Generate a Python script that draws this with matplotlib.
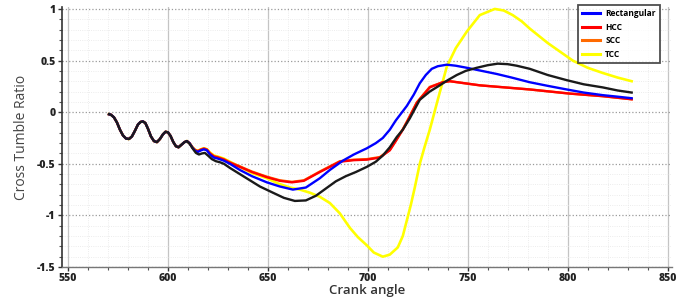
import matplotlib
matplotlib.use("Agg")
import matplotlib.pyplot as plt
from matplotlib.ticker import MultipleLocator

plt.rcParams['font.family'] = ['Open Sans', 'DejaVu Sans']

# shared start of all curves (oscillating part)
x_start = [570.5, 571.5, 573, 574.5, 576, 577.5, 579, 580.5, 582, 583.5, 585, 586.3,
           587.5, 588.7, 590, 591.5, 593, 594.5, 596, 597.5, 598.8, 600, 601.3, 602.7,
           604, 605.3, 606.8, 608.3, 609.5]
y_start = [-0.02, -0.025, -0.05, -0.10, -0.17, -0.225, -0.255, -0.26, -0.235, -0.18,
           -0.12, -0.095, -0.09, -0.105, -0.16, -0.235, -0.28, -0.29, -0.26, -0.215,
           -0.19, -0.195, -0.23, -0.29, -0.33, -0.34, -0.315, -0.29, -0.28]

rect_x = [610.8, 612.3, 613.6, 615, 616.5, 618, 619.5, 621, 623, 625, 628, 631, 636, 642,
          649.5, 656, 662.5, 669, 676, 681, 687.5, 693, 699.5, 704, 707.5, 711, 714,
          719.5, 723, 726, 729, 732, 735, 739.5, 744, 749.5, 757, 764.5, 772, 781, 790,
          799.5, 808, 817.5, 825, 832]
rect_y = [-0.30, -0.345, -0.375, -0.385, -0.37, -0.36, -0.37, -0.41, -0.44, -0.45,
          -0.47, -0.50, -0.56, -0.62, -0.68, -0.72, -0.75, -0.73, -0.64, -0.56, -0.47,
          -0.41, -0.35, -0.30, -0.25, -0.17, -0.08, 0.06, 0.17, 0.28, 0.36, 0.42, 0.445,
          0.46, 0.45, 0.43, 0.40, 0.37, 0.335, 0.29, 0.255, 0.22, 0.19, 0.165, 0.15, 0.135]

hcc_x = [610.8, 612.3, 613.6, 615, 616.5, 618, 619.5, 621, 623, 625, 628, 631, 636, 642,
         649.5, 656, 662, 668, 676, 681, 686, 693, 699.5, 706, 711, 714, 717.5, 720,
         724.5, 731, 737.5, 741, 756, 781, 801, 817.5, 832]
hcc_y = [-0.30, -0.345, -0.37, -0.38, -0.365, -0.355, -0.365, -0.40, -0.43, -0.44,
         -0.46, -0.49, -0.53, -0.58, -0.63, -0.665, -0.68, -0.665, -0.58, -0.53, -0.48,
         -0.465, -0.46, -0.44, -0.37, -0.28, -0.17, -0.08, 0.09, 0.24, 0.29, 0.30, 0.26,
         0.22, 0.18, 0.155, 0.125]

scc_x = [610.8, 612.3, 613.6, 615, 616.5, 618, 619.5, 621, 623, 625, 628, 631, 636, 642,
         649.5, 656, 662, 668, 676, 681, 686, 693, 699.5, 706, 711, 714, 717.5, 720,
         724.5, 731, 737.5, 741, 756, 781, 801, 817.5, 832]
scc_y = [-0.30, -0.34, -0.365, -0.375, -0.36, -0.35, -0.36, -0.395, -0.425, -0.435,
         -0.455, -0.485, -0.525, -0.575, -0.625, -0.66, -0.675, -0.66, -0.575, -0.525,
         -0.475, -0.46, -0.455, -0.435, -0.365, -0.275, -0.165, -0.075, 0.095, 0.245,
         0.29, 0.30, 0.26, 0.22, 0.18, 0.155, 0.125]

tcc_x = [610.8, 612.3, 613.6, 615, 616.5, 618, 619.5, 621, 623, 625, 628, 631, 636, 642,
         649.5, 655, 661, 666, 671, 676, 681, 686, 691, 695, 699.5, 703, 707.5, 711, 715,
         717.5, 719.5, 721.5, 723.5, 726, 728.5, 731, 735, 739.5, 744, 749.5, 756, 763.5,
         768, 772.5, 777, 781, 790, 802.5, 810, 817.5, 825, 832]
tcc_y = [-0.30, -0.34, -0.365, -0.375, -0.36, -0.35, -0.36, -0.39, -0.42, -0.43, -0.45,
         -0.48, -0.53, -0.59, -0.64, -0.69, -0.73, -0.75, -0.78, -0.82, -0.88, -0.98,
         -1.12, -1.21, -1.29, -1.36, -1.40, -1.38, -1.31, -1.20, -1.05, -0.90, -0.73,
         -0.50, -0.33, -0.17, 0.12, 0.44, 0.62, 0.78, 0.94, 1.0, 0.985, 0.94, 0.88, 0.81,
         0.67, 0.50, 0.43, 0.38, 0.335, 0.30]

base_x = [611, 612.5, 614, 615.5, 617, 618.5, 620, 622, 624, 626, 628, 631, 636, 641, 646,
          652.5, 658, 663.5, 669, 674, 679, 684, 689, 694, 699.5, 704, 707.5, 711, 714.5,
          717.5, 721, 726, 731, 736, 740, 744.5, 749, 754.5, 760, 765, 770, 774.5, 781,
          790, 799.5, 808, 817.5, 825, 832]
base_y = [-0.31, -0.355, -0.395, -0.41, -0.40, -0.395, -0.42, -0.455, -0.475, -0.485,
          -0.50, -0.54, -0.60, -0.66, -0.72, -0.78, -0.83, -0.86, -0.855, -0.81, -0.74,
          -0.67, -0.62, -0.58, -0.53, -0.48, -0.42, -0.34, -0.24, -0.17, -0.06, 0.12,
          0.20, 0.26, 0.31, 0.36, 0.40, 0.43, 0.455, 0.47, 0.465, 0.45, 0.42, 0.36, 0.31,
          0.27, 0.24, 0.21, 0.19]

fig = plt.figure(figsize=(6.85, 2.99), dpi=100)
ax = fig.add_axes([0.0905, 0.107, 0.89, 0.87])

lw = 1.7
ax.plot(x_start + tcc_x, y_start + tcc_y, color='#ffff00', lw=lw + 0.2, label='TCC', zorder=3)
ax.plot(x_start + scc_x, y_start + scc_y, color='#ff6a00', lw=lw, label='SCC', zorder=4)
ax.plot(x_start + hcc_x, y_start + hcc_y, color='#ff0000', lw=lw, label='HCC', zorder=5)
ax.plot(x_start + rect_x, y_start + rect_y, color='#0000ff', lw=lw, label='Rectangular', zorder=6)
ax.plot(x_start + base_x, y_start + base_y, color='#1a1a1a', lw=lw, zorder=7)

ax.set_xlim(547, 852)
ax.set_ylim(-1.5, 1.02)
ax.xaxis.set_major_locator(MultipleLocator(50))
ax.xaxis.set_minor_locator(MultipleLocator(10))
ax.yaxis.set_major_locator(MultipleLocator(0.5))
ax.yaxis.set_minor_locator(MultipleLocator(0.1))
ax.set_yticks([-1.5, -1, -0.5, 0, 0.5, 1])
ax.set_yticklabels(['-1.5', '-1', '-0.5', '0', '0.5', '1'])

ax.grid(axis='x', which='major', ls='-', color='#c4c4c4', lw=0.9)
ax.grid(axis='y', which='major', ls=':', color='#9a9a9a', lw=0.9)
ax.grid(which='minor', ls=':', color='#e6e6e6', lw=0.6)
ax.set_axisbelow(True)

for s in ['top', 'right']:
    ax.spines[s].set_visible(False)
ax.spines['left'].set_color('#333333')
ax.spines['bottom'].set_color('#777777')
ax.spines['left'].set_linewidth(1.2)
ax.spines['bottom'].set_linewidth(1.0)

ax.tick_params(which='major', length=3, width=1, colors='#333333', labelsize=7.5, pad=1.5)
ax.tick_params(which='minor', length=2, width=0.8, colors='#555555')
for t in ax.get_xticklabels() + ax.get_yticklabels():
    t.set_fontweight('heavy')
    t.set_color('#222222')

ax.set_xlabel('Crank angle', fontsize=9.5, fontweight='semibold', color='#333333', labelpad=0)
ax.set_ylabel('Cross Tumble Ratio', fontsize=10, color='#444444', labelpad=6)

handles, labels = ax.get_legend_handles_labels()
order = [3, 2, 1, 0]
leg = ax.legend([handles[i] for i in order], [labels[i] for i in order],
                loc='upper right', bbox_to_anchor=(660 / 685, 1 - 5 / 299),
                bbox_transform=fig.transFigure, prop={'weight': 'bold', 'size': 6},
                frameon=True, fancybox=False, handlelength=2.2, labelspacing=0.55,
                borderpad=0.5, handletextpad=0.6, borderaxespad=0)
for h in leg.get_lines():
    h.set_linewidth(2.2)
leg.get_frame().set_edgecolor('#222222')
leg.get_frame().set_linewidth(1.3)

fig.savefig('out.png', dpi=100)
